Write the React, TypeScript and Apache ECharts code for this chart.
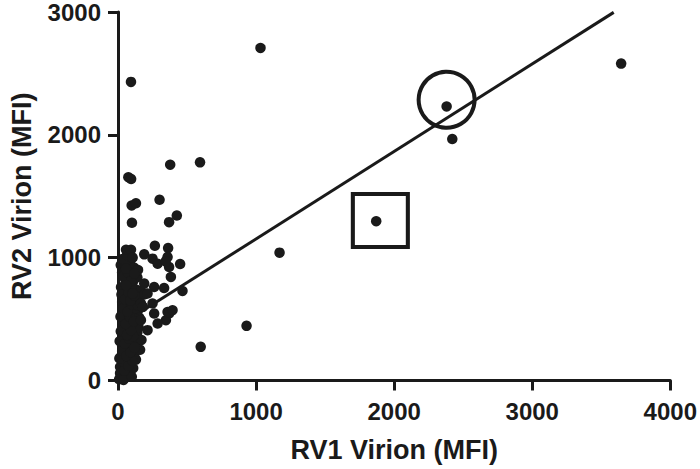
import React, { useEffect, useRef } from "react";
import * as echarts from "echarts";

// Axis tick values
const xTicks = [0, 1000, 2000, 3000, 4000];
const yTicks = [0, 1000, 2000, 3000];

// RV1 (x) vs RV2 (y) MFI — dense low-signal cluster
const clusterX = [20, 35, 50, 15, 60, 80, 40, 70, 25, 90, 110, 55, 85, 30, 120, 65, 100, 45, 130, 75, 20, 105, 140, 60, 90, 35, 125, 150, 70, 110, 45, 95, 140, 80, 30, 120, 60, 100, 150, 40, 85, 130, 70, 110, 50, 95, 140, 30, 75, 15, 10, 12, 18, 22, 8, 40, 100, 130, 160, 170, 155, 180, 165, 190, 125, 60,
  45, 75, 105, 30, 60, 90, 120, 50, 80, 110, 35, 65, 95, 125, 55, 85, 115, 40, 70, 100, 145, 25, 50, 75, 100, 60, 90, 120, 40, 70, 20, 55, 85, 115, 145, 35, 65, 95];
const clusterY = [30, 60, 20, 110, 90, 50, 150, 180, 200, 140, 100, 240, 260, 280, 220, 310, 330, 350, 300, 380, 400, 420, 390, 440, 470, 480, 460, 430, 510, 530, 560, 580, 560, 620, 640, 650, 680, 700, 680, 730, 750, 740, 790, 810, 830, 860, 840, 880, 900, 60, 180, 320, 520, 760, 10, 5, 30, 170, 250, 330, 510, 600, 730, 700, 880, 960,
  80, 120, 160, 240, 200, 230, 270, 300, 340, 360, 400, 370, 410, 500, 460, 520, 480, 590, 560, 620, 610, 700, 660, 720, 770, 780, 650, 690, 850, 880, 940, 930, 960, 920, 900, 990, 1020, 810];

// mid-range points
const midX = [58, 94, 267, 363, 190, 250, 359, 450, 106, 58, 118, 287, 370, 383, 467, 58, 190, 262, 334, 106, 214, 250, 262, 370, 347, 287, 214, 166, 166, 345, 359, 395, 178, 101, 370, 426, 301, 99, 130, 75, 95, 378, 594, 94, 1032, 599, 931, 1170];
const midY = [1065, 1065, 1097, 1078, 1027, 992, 1005, 948, 1000, 911, 870, 951, 924, 843, 729, 775, 789, 761, 753, 708, 708, 627, 545, 545, 491, 464, 410, 491, 627, 970, 558, 572, 599, 1284, 1289, 1343, 1471, 1425, 1443, 1655, 1640, 1757, 1776, 2431, 2707, 274, 445, 1041];

// high-signal points
const highX = [1870, 2380, 2421, 3644];
const highY = [1297, 2231, 1966, 2580];

// linear fit
const fitSlope = 0.712;
const fitIntercept = 441;
const fitXStart = 0;
const fitXEnd = 3590;

// highlighted samples (annotation markers)
const circledPoint = [2380, 2285];
const boxedPoint = [1900, 1303];

const INK = "#1a1a1a";
const FONT = "'Liberation Sans', Arial, sans-serif";

export default function App() {
  const ref = useRef<HTMLDivElement>(null);

  useEffect(() => {
    if (!ref.current) return;
    const chart = echarts.init(ref.current, undefined, { renderer: "svg" });

    const allX = [...clusterX, ...midX, ...highX];
    const allY = [...clusterY, ...midY, ...highY];
    const points = allX.map((x, i) => [x, allY[i]]);

    const fitLine = [
      [fitXStart, fitIntercept + fitSlope * fitXStart],
      [fitXEnd, fitIntercept + fitSlope * fitXEnd],
    ];

    const axisCommon = {
      type: "value" as const,
      nameLocation: "middle" as const,
      nameTextStyle: { fontFamily: FONT, fontWeight: "bold" as const, fontSize: 27, color: INK },
      axisLine: { show: true, onZero: false, lineStyle: { color: INK, width: 3 } },
      axisTick: { show: true, inside: false, length: 10, lineStyle: { color: INK, width: 3 } },
      splitLine: { show: false },
      axisLabel: {
        fontFamily: FONT,
        fontWeight: "bold" as const,
        fontSize: 24,
        color: INK,
        formatter: (v: number) => String(v),
      },
    };

    chart.setOption({
      animation: false,
      backgroundColor: "#ffffff",
      grid: { left: 117, right: 29, top: 11, bottom: 88.5, containLabel: false },
      xAxis: {
        ...axisCommon,
        name: "RV1 Virion (MFI)",
        nameGap: 56,
        min: xTicks[0],
        max: xTicks[xTicks.length - 1],
        interval: xTicks[1] - xTicks[0],
        axisLabel: { ...axisCommon.axisLabel, margin: 19 },
      },
      yAxis: {
        ...axisCommon,
        name: "RV2 Virion (MFI)",
        nameGap: 83,
        min: yTicks[0],
        max: yTicks[yTicks.length - 1],
        interval: yTicks[1] - yTicks[0],
        axisLabel: { ...axisCommon.axisLabel, margin: 17 },
      },
      series: [
        {
          type: "line",
          data: fitLine,
          symbol: "none",
          lineStyle: { color: INK, width: 3 },
          z: 3,
        },
        {
          type: "scatter",
          data: points,
          symbol: "circle",
          symbolSize: 10.5,
          itemStyle: { color: INK, opacity: 1 },
          clip: false,
          z: 4,
        },
        {
          type: "scatter",
          data: [circledPoint],
          symbol: "circle",
          symbolSize: 56,
          itemStyle: { color: "transparent", borderColor: INK, borderWidth: 4, opacity: 1 },
          z: 5,
        },
        {
          type: "scatter",
          data: [boxedPoint],
          symbol: "rect",
          symbolSize: [55, 53],
          itemStyle: { color: "transparent", borderColor: INK, borderWidth: 4, opacity: 1 },
          z: 5,
        },
      ],
    });

    return () => chart.dispose();
  }, []);

  return (
    <div
      ref={ref}
      style={{ position: "fixed", left: 0, top: 0, width: 700, height: 469, background: "#fff" }}
    />
  );
}
